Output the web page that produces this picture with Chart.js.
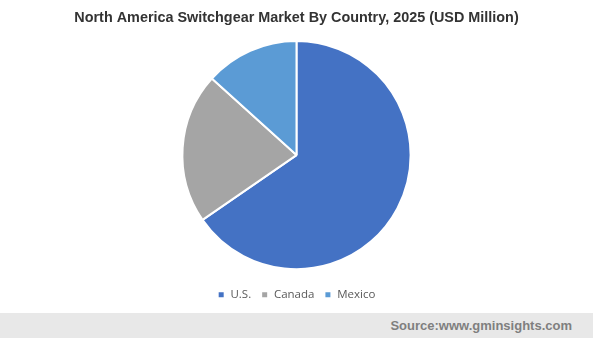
<!DOCTYPE html>
<html>
<head>
<meta charset="utf-8">
<script src="https://cdn.jsdelivr.net/npm/chart.js@4"></script>
<style>
  html, body { margin: 0; padding: 0; background: #fff; }
  #wrap { width: 593px; height: 313px; position: relative; }
  #footer {
    width: 593px; height: 25px; background: #e8e8e8;
    font: bold 13px "Liberation Sans", Arial, sans-serif; color: #7f7f7f;
    text-align: right; box-sizing: border-box; padding-right: 21px; line-height: 25px;
  }
</style>
</head>
<body>
<div id="wrap"><canvas id="pieChart"></canvas></div>
<div id="footer">Source:www.gminsights.com</div>
<script>
// North America switchgear market by country, 2025
const countries = ['U.S.', 'Canada', 'Mexico'];
const shares = [65.4, 21.3, 13.3];
const sliceColors = ['#4472c4', '#a5a5a5', '#5b9bd5'];

const ctx = document.getElementById('pieChart');
new Chart(ctx, {
    type: 'pie',
    data: {
        labels: countries,
        datasets: [{ data: shares, backgroundColor: sliceColors, borderColor: '#ffffff', borderWidth: 2 }]
    },
    options: {
        responsive: true,
        maintainAspectRatio: false,
        animation: false,
        layout: { padding: { bottom: 2.4 } },
        plugins: {
            title: {
                display: true,
                text: 'North America Switchgear Market By Country, 2025 (USD Million)',
                color: '#333333',
                font: { family: 'Liberation Sans', weight: 'bold', size: 14.4 },
                padding: { top: 9, bottom: 13.7 }
            },
            legend: {
                position: 'bottom',
                // empty title only used as a spacer between pie and legend
                title: { display: true, text: ' ', font: { size: 1 }, padding: { top: 3.85, bottom: 3.85 } },
                labels: {
                    usePointStyle: true,
                    pointStyle: 'rect',
                    boxWidth: 7,
                    boxHeight: 7,
                    padding: 10,
                    color: '#595959',
                    font: { family: 'Open Sans', size: 11.5 }
                }
            },
            tooltip: { enabled: false }
        }
    }
});
</script>
</body>
</html>
